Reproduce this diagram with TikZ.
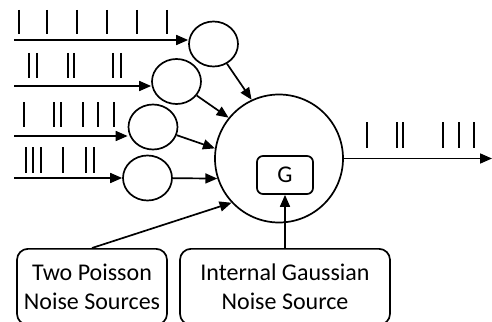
\documentclass[tikz,border=0pt]{standalone}
\usepackage{fontspec}
\setmainfont{Carlito}
\usetikzlibrary{arrows.meta,shapes.geometric}
\begin{document}
\begin{tikzpicture}[x=1pt,y=-1pt,
  line width=1.7pt,
  arr/.style={-{Triangle[length=12pt,width=10pt]}},
  small/.style={ellipse,draw,minimum width=49pt,minimum height=45pt,inner sep=0pt},
  soma/.style={circle,draw,minimum size=128pt,inner sep=0pt},
  srcbox/.style={draw,rounded corners=11pt,align=center,inner sep=0pt,
     font=\fontsize{24}{29}\selectfont},
  spike/.style={line width=1.8pt}
]
\useasboundingbox (0,0) rectangle (492,321);
% neurons
\node[small] (c1) at (213.5,44) {};
\node[small] (c2) at (176.5,81.5) {};
\node[small] (c3) at (153,127) {};
\node[small] (c4) at (147.5,178) {};
\node[soma] (big) at (279,158.5) {};
\node[draw,rounded corners=6pt,minimum width=56pt,minimum height=38pt,inner sep=0pt,
      font=\fontsize{24}{26}\selectfont] (G) at (285,175) {G};
% source boxes
\node[srcbox,minimum width=150pt,minimum height=76pt,anchor=north] (pois) at (92,248)
  {Two Poisson\\Noise Sources};
\node[srcbox,minimum width=210pt,minimum height=76pt,anchor=north] (gauss) at (285,248)
  {Internal Gaussian\\Noise Source};
% inputs
\coordinate (i1) at (14,40);
\coordinate (i2) at (14,86);
\coordinate (i3) at (14,136);
\coordinate (i4) at (14,178);
\draw[arr] (i1) -- (i1 -| c1.west);
\draw[arr] (i2) -- (i2 -| c2.west);
\draw[arr] (i3) -- (i3 -| c3.west);
\draw[arr] (i4) -- (i4 -| c4.west);
% spikes
\foreach \x in {19,47,77,107,137,167} \draw[spike] (\x,10) -- (\x,34);
\foreach \x in {29,37,68,74,113,121} \draw[spike] (\x,53) -- (\x,78);
\foreach \x in {24,54,61,83,98,114} \draw[spike] (\x,102) -- (\x,127);
\foreach \x in {26,33,41,63,86,94} \draw[spike] (\x,147) -- (\x,173);
\foreach \x in {367,397,403,443,459,474} \draw[spike] (\x,122) -- (\x,148);
% to soma
\draw[arr] (c1) -- (big.115);
\draw[arr] (c2) -- (big.141);
\draw[arr] (c3) -- (big.171);
\draw[arr] (c4) -- (big.198);
\draw[arr] (pois.north) -- (big.223);
\draw[arr] (gauss.north) -- (G.south);
% output
\coordinate (out) at (492,158.5);
\draw[arr] (big.east) -- (out);
\end{tikzpicture}
\end{document}
